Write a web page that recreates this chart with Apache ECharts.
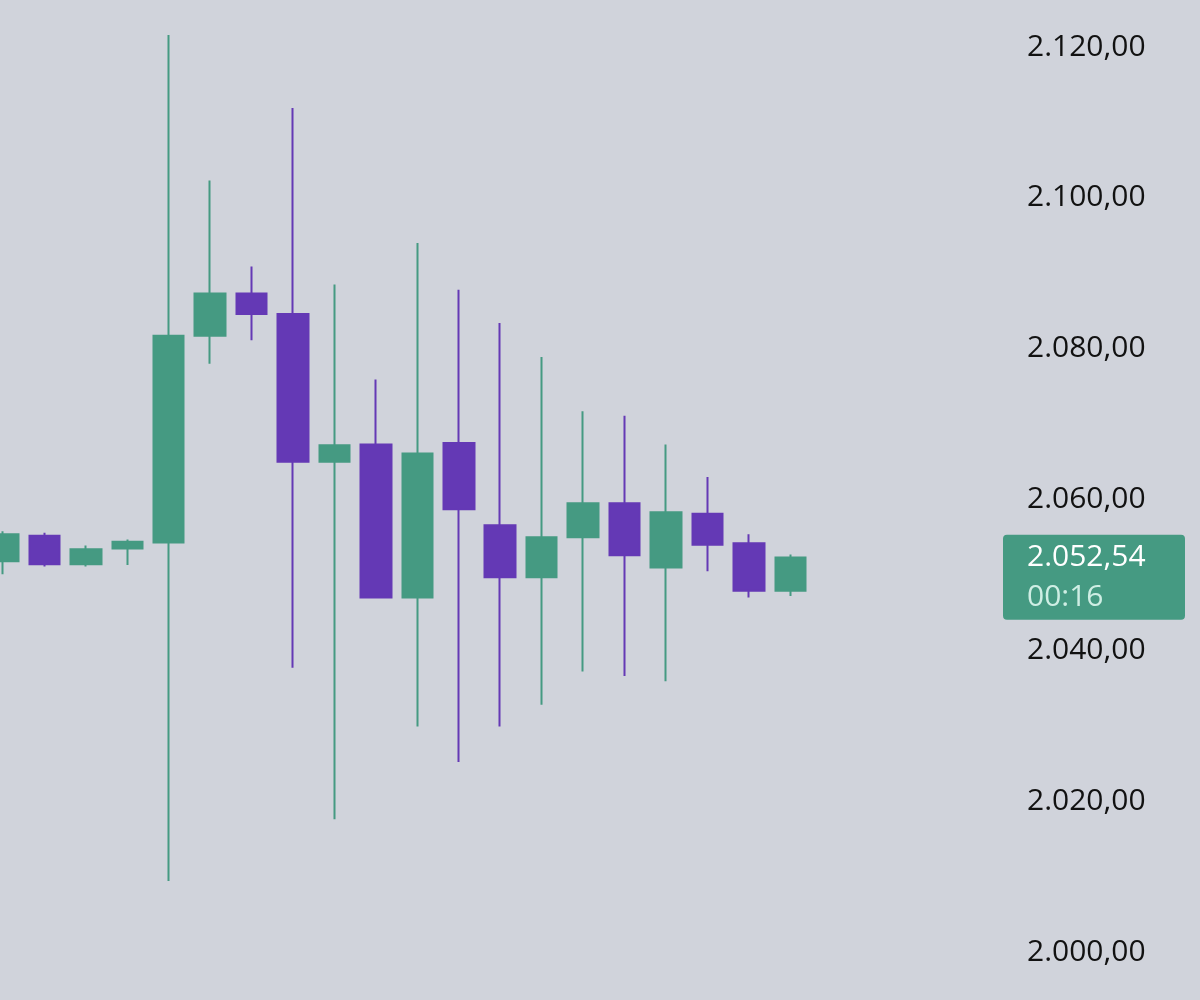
<!DOCTYPE html>
<html><head><meta charset="utf-8">
<script src="https://cdn.jsdelivr.net/npm/echarts@6/dist/echarts.min.js"></script>
<style>html,body{margin:0;padding:0;background:#d0d3db}#c{width:1200px;height:1000px}</style>
</head><body><div id="c"></div>
<script>
// [open, close, low, high]
const categories = ['1','2','3','4','5','6','7','8','9','10','11','12','13','14','15','16','17','18','19','20','21','22','23','24'];
const opens  = [2051.8,2055.2,2051.4,2053.5,2054.3,2081.7,2087.3,2084.6,2065.0,2067.3,2047.0,2067.5,2056.6,2049.7,2055.0,2059.5,2051.0,2058.1,2054.2,2047.9];
const closes = [2055.4,2051.4,2053.4,2054.4,2081.7,2087.3,2084.6,2065.0,2067.2,2047.0,2066.1,2058.7,2049.7,2055.0,2059.5,2052.6,2058.3,2054.0,2047.9,2052.3];
const lows   = [2050.1,2051.1,2051.1,2051.3,2009.4,2078.0,2081.1,2037.7,2017.6,2047.0,2029.9,2025.2,2029.9,2032.8,2037.2,2036.6,2035.9,2050.5,2047.0,2047.2];
const highs  = [2055.8,2055.6,2053.9,2054.7,2121.6,2102.3,2090.9,2111.9,2088.5,2075.9,2094.0,2087.8,2083.4,2078.9,2071.7,2071.1,2067.3,2063.0,2055.4,2052.7];
const yTicks = [2000,2020,2040,2060,2080,2100,2120];
const currentPrice = 2052.54;
const countdown = '00:16';

const green = '#459a82', purple = '#6439b5';
function fmt(v){
  const s = v.toFixed(2).split('.');
  return s[0].replace(/\B(?=(\d{3})+(?!\d))/g,'.') + ',' + s[1];
}
const data = opens.map((o,i)=>[o,closes[i],lows[i],highs[i]]);
const chart = echarts.init(document.getElementById('c'));
chart.setOption({
  backgroundColor:'#d0d3db',
  animation:false,
  grid:{left:3,right:244,top:47,bottom:48},
  xAxis:{type:'category',data:categories,show:false,boundaryGap:false},
  yAxis:{type:'value',position:'right',min:2000,max:2120,interval:20,
    splitLine:{show:false},axisLine:{show:false},axisTick:{show:false},
    axisLabel:{formatter:v=>fmt(v),margin:1027-956,fontSize:30,color:'#111',fontFamily:'Open Sans'}},
  series:[{type:'candlestick',data:data,barWidth:31,clip:false,
    itemStyle:{color:green,color0:purple,borderColor:green,borderColor0:purple,borderWidth:2}}]
});
const py = chart.convertToPixel({yAxisIndex:0}, currentPrice);
chart.setOption({graphic:[
  {type:'rect',shape:{x:1003,y:py-21,width:182,height:85,r:4},style:{fill:green},z:10},
  {type:'text',x:1027,y:py+2,style:{text:fmt(currentPrice),fill:'#fff',font:'30px "Open Sans"',textVerticalAlign:'middle'},z:11},
  {type:'text',x:1027,y:py+42,style:{text:countdown,fill:'#cfeee4',font:'30px "Open Sans"',textVerticalAlign:'middle'},z:11}
]});
</script></body></html>
